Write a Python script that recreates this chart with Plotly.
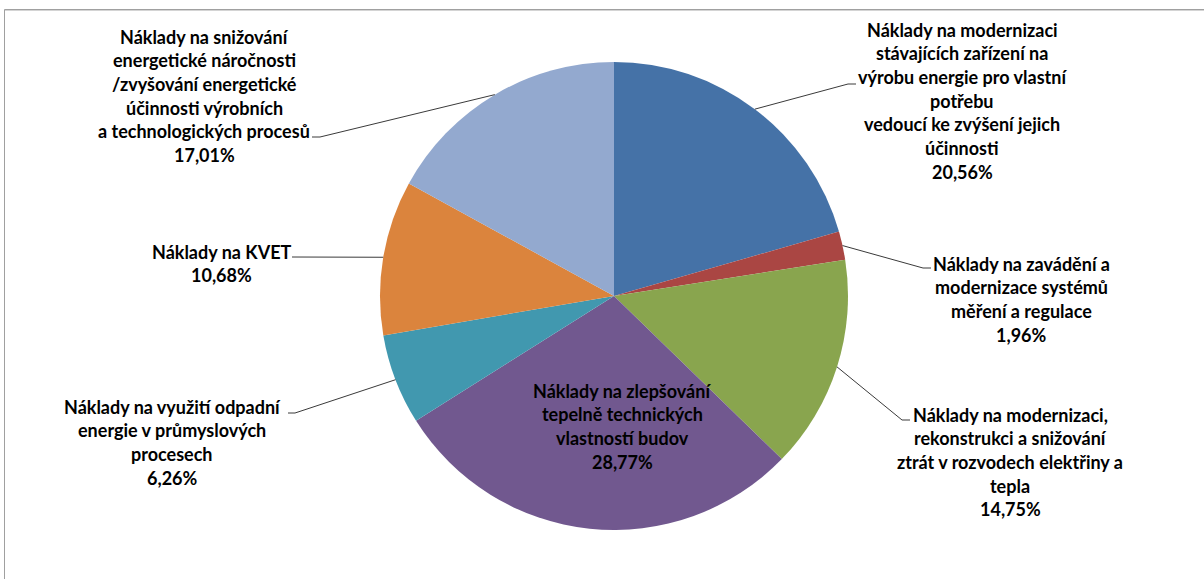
import math
import plotly.graph_objects as go

W, H = 1204, 579

# ---- data ----
categories = [
    "Náklady na modernizaci<br>stávajících zařízení na<br>výrobu energie pro vlastní<br>potřebu<br>vedoucí ke zvýšení jejich<br>účinnosti",
    "Náklady na zavádění a<br>modernizace systémů<br>měření a regulace",
    "Náklady na modernizaci,<br>rekonstrukci a snižování<br>ztrát v rozvodech elektřiny a<br>tepla",
    "Náklady na zlepšování<br>tepelně technických<br>vlastností budov",
    "Náklady na využití odpadní<br>energie v průmyslových<br>procesech",
    "Náklady na KVET",
    "Náklady na snižování<br>energetické náročnosti<br>/zvyšování energetické<br>účinnosti výrobních<br>a technologických procesů",
]
values = [20.56, 1.96, 14.75, 28.77, 6.26, 10.68, 17.01]

colors = ["#4572A7", "#AA4643", "#89A54E", "#71588F", "#4198AF", "#DB843D", "#93A9CF"]

# ---- layout (pixels) ----
cx, cy, R = 614, 296, 234
# label first-line center (x, y); elbow point; horizontal end; None = no leader (inside)
label_pos = [(962, 29.5), (1021, 263.5), (1010, 414.5), (622, 390.5), (172, 406.5), (222, 251.5), (204, 36.5)]
elbows = [(848, 84), (923, 268), (902, 420), None, (295, 413), (293, 257), (320, 137)]
ends = [(856, 84), (931, 268), (910, 420), None, (288, 413), (292, 257), (312, 137)]
line_gap = 23.7


def px(x):
    return x / W


def py(y):
    return 1 - y / H


fig = go.Figure()
fig.add_trace(go.Pie(
    labels=[c.replace("<br>", " ") for c in categories],
    values=values,
    sort=False,
    direction="clockwise",
    rotation=0,
    textinfo="none",
    hoverinfo="skip",
    marker=dict(colors=colors, line=dict(width=0)),
    domain=dict(x=[px(cx - R), px(cx + R)], y=[py(cy + R), py(cy - R)]),
    showlegend=False,
))

font = dict(family="Lato", size=18, color="#000000", weight="bold")
annotations = []
shapes = []
total = sum(values)
cum = 0.0
for i, (cat, v) in enumerate(zip(categories, values)):
    mid = (cum + v / 2) / total * 2 * math.pi
    cum += v
    lines = cat.split("<br>") + [f"{v:.2f}".replace(".", ",") + "%"]
    lx, ly = label_pos[i]
    for k, t in enumerate(lines):
        annotations.append(dict(
            x=px(lx), y=py(ly + k * line_gap), xref="paper", yref="paper",
            text=t, showarrow=False, xanchor="center", yanchor="middle", font=font,
        ))
    if elbows[i] is not None:
        ex = cx + R * math.sin(mid)
        ey = cy - R * math.cos(mid)
        bx, by = elbows[i]
        hx, hy = ends[i]
        shapes.append(dict(
            type="path", xref="paper", yref="paper",
            path=f"M {px(ex)} {py(ey)} L {px(bx)} {py(by)} L {px(hx)} {py(hy)}",
            line=dict(color="#3a3a3a", width=1),
        ))

# outer frame (top and left edges visible)
shapes.append(dict(type="line", xref="paper", yref="paper", x0=px(4.5), x1=1.0, y0=py(9.5), y1=py(9.5),
                   line=dict(color="#a0a0a0", width=1)))
shapes.append(dict(type="line", xref="paper", yref="paper", x0=px(5), x1=1.0, y0=py(10.5), y1=py(10.5),
                   line=dict(color="#d4d4d4", width=1)))
shapes.append(dict(type="line", xref="paper", yref="paper", x0=px(4.5), x1=px(4.5), y0=py(9.5), y1=0,
                   line=dict(color="#a0a0a0", width=1)))

fig.update_layout(
    width=W, height=H,
    margin=dict(l=0, r=0, t=0, b=0),
    paper_bgcolor="white",
    plot_bgcolor="white",
    annotations=annotations,
    shapes=shapes,
)

fig.write_html("out.html")
